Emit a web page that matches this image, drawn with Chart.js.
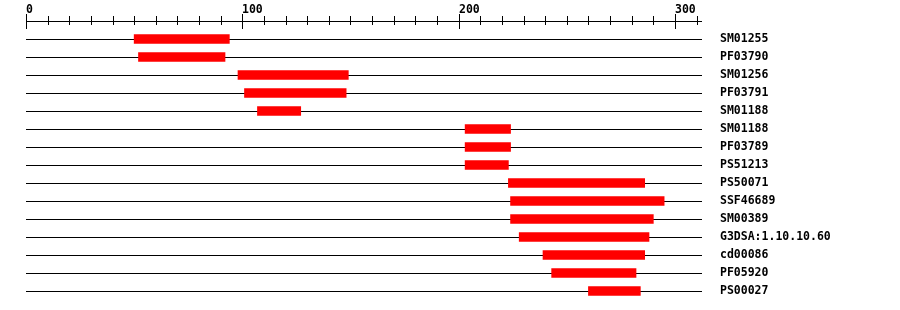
<!DOCTYPE html>
<html>
<head>
<meta charset="utf-8">
<script src="https://cdn.jsdelivr.net/npm/chart.js@4/dist/chart.umd.min.js"></script>
<style>
  body { margin: 0; background: #fff; }
</style>
</head>
<body>
<canvas id="domainChart" width="900" height="310"></canvas>
<script>
// domain hits along the sequence
const names = ['SM01255', 'PF03790', 'SM01256', 'PF03791', 'SM01188', 'SM01188', 'PF03789',
  'PS51213', 'PS50071', 'SSF46689', 'SM00389', 'G3DSA:1.10.10.60', 'cd00086', 'PF05920', 'PS00027'];
const starts = [50, 52, 98, 101, 107, 203, 203, 203, 223, 224, 224, 228, 239, 243, 260];
const ends = [94, 92, 149, 148, 127, 224, 224, 223, 286, 295, 290, 288, 286, 282, 284];
const tickValues = [0, 100, 200, 300];
const tickLabels = ['0', '100', '200', '300'];

const labelFont = { family: 'DejaVu Sans Mono', size: 11.5, weight: 'bold' };

// ruler at the top: axis line, minor ticks every 10, labels at the hundreds
const rulerPlugin = {
  id: 'ruler',
  afterDraw(chart) {
    const ctx = chart.ctx;
    const x = chart.scales.x;
    const area = chart.chartArea;
    const axisY = 21.5;
    ctx.save();
    ctx.strokeStyle = '#000';
    ctx.lineWidth = 1;
    ctx.beginPath();
    ctx.moveTo(area.left, axisY);
    ctx.lineTo(area.right, axisY);
    for (let v = 0; v <= x.max; v += 10) {
      const px = Math.round(x.getPixelForValue(v)) + 0.5;
      const major = v % 100 === 0;
      ctx.moveTo(px, major ? 14 : 16);
      ctx.lineTo(px, major ? 29 : 25);
    }
    ctx.stroke();
    ctx.fillStyle = '#000';
    ctx.font = 'bold 11.5px "DejaVu Sans Mono"';
    ctx.textAlign = 'left';
    ctx.textBaseline = 'alphabetic';
    tickValues.forEach((v, i) => {
      ctx.fillText(tickLabels[i], Math.round(x.getPixelForValue(v)), 13);
    });
    ctx.restore();
  }
};

new Chart(document.getElementById('domainChart'), {
  type: 'bar',
  data: {
    labels: names,
    datasets: [{
      data: starts.map((s, i) => [s, ends[i]]),
      backgroundColor: '#ff0000',
      borderWidth: 0,
      barThickness: 9,
    }],
  },
  options: {
    indexAxis: 'y',
    responsive: false,
    animation: false,
    layout: { padding: { top: 30, bottom: 10, left: 26, right: 0 } },
    plugins: {
      legend: { display: false },
      tooltip: { enabled: false },
    },
    scales: {
      x: {
        type: 'linear',
        min: 0,
        max: 312.5,
        display: false,
      },
      y: {
        position: 'right',
        grid: { offset: false, color: '#000', lineWidth: 1, drawTicks: false },
        border: { display: false },
        ticks: { padding: 18, color: '#000', font: labelFont },
        afterFit(scale) {
          scale.width = 198;
          // label padding should not eat into the rows
          scale.paddingTop = 0;
          scale.paddingBottom = 0;
        },
      },
    },
  },
  plugins: [rulerPlugin],
});
</script>
</body>
</html>
